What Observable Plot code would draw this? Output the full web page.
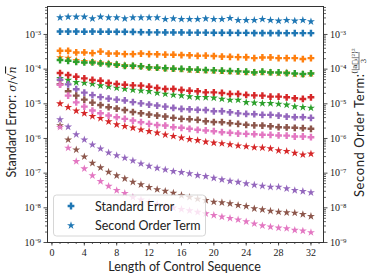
<!DOCTYPE html>
<html><head><meta charset="utf-8">
<script src="https://cdn.jsdelivr.net/npm/d3@7"></script>
<script src="https://cdn.jsdelivr.net/npm/@observablehq/plot@0.6"></script>
<style>body{margin:0;background:#fff;}</style>
</head><body><div id="chart"></div>
<script>
const lengths = [1,2,3,4,5,6,7,8,9,10,11,12,13,14,15,16,17,18,19,20,21,22,23,24,25,26,27,28,29,30,31,32];

const seBlue = [1.21e-3,1.21e-3,1.21e-3,1.2e-3,1.21e-3,1.2e-3,1.2e-3,1.19e-3,1.19e-3,1.18e-3,1.16e-3,1.15e-3,1.15e-3,1.14e-3,1.14e-3,1.14e-3,1.13e-3,1.13e-3,1.13e-3,1.12e-3,1.12e-3,1.12e-3,1.11e-3,1.11e-3,1.1e-3,1.1e-3,1.1e-3,1.1e-3,1.09e-3,1.09e-3,1.09e-3,1.09e-3];
const sotBlue = [3.06e-3,3.21e-3,3.21e-3,3.21e-3,2.86e-3,3.21e-3,3.06e-3,3.06e-3,2.86e-3,3.06e-3,3.06e-3,3.06e-3,3.06e-3,2.75e-3,2.86e-3,2.75e-3,2.75e-3,2.75e-3,2.86e-3,2.75e-3,2.75e-3,2.94e-3,2.58e-3,2.58e-3,2.58e-3,2.75e-3,2.58e-3,2.46e-3,2.58e-3,2.46e-3,2.58e-3,2.35e-3];
const seOrange = [3.38e-4,3.38e-4,3.02e-4,3.02e-4,2.9e-4,3.2e-4,2.82e-4,2.82e-4,2.71e-4,2.71e-4,2.82e-4,2.71e-4,2.68e-4,2.62e-4,2.6e-4,2.54e-4,2.5e-4,2.43e-4,2.45e-4,2.38e-4,2.3e-4,2.27e-4,2.22e-4,2.2e-4,2.08e-4,2.17e-4,2.17e-4,2.08e-4,2.08e-4,2.08e-4,1.95e-4,2.08e-4];
const sotOrange = [2.17e-4,2.08e-4,1.8e-4,1.69e-4,1.63e-4,1.53e-4,1.46e-4,1.38e-4,1.29e-4,1.25e-4,1.21e-4,1.13e-4,1.1e-4,1.06e-4,1.03e-4,9.93e-5,9.6e-5,9.4e-5,9.2e-5,9.0e-5,8.8e-5,8.6e-5,8.4e-5,8.26e-5,8.0e-5,8.26e-5,8.0e-5,7.62e-5,7.88e-5,7.13e-5,7.13e-5,7.38e-5];
const seGreen = [1.83e-4,1.74e-4,1.63e-4,1.56e-4,1.56e-4,1.46e-4,1.4e-4,1.34e-4,1.25e-4,1.25e-4,1.2e-4,1.12e-4,1.1e-4,1.06e-4,1.03e-4,1.01e-4,9.8e-5,9.6e-5,9.4e-5,9.2e-5,9.0e-5,8.8e-5,8.6e-5,8.4e-5,8.0e-5,8.4e-5,8.0e-5,8.0e-5,7.7e-5,7.5e-5,7.2e-5,7.5e-5];
const sotGreen = [5.41e-5,4.86e-5,4.15e-5,3.99e-5,3.73e-5,3.34e-5,3.12e-5,2.86e-5,2.68e-5,2.51e-5,2.39e-5,2.29e-5,2.06e-5,1.92e-5,1.8e-5,1.72e-5,1.61e-5,1.54e-5,1.54e-5,1.48e-5,1.38e-5,1.29e-5,1.29e-5,1.1e-5,1.07e-5,1.03e-5,1.03e-5,9.9e-6,9.3e-6,8.3e-6,7.94e-6,7.6e-6];
const seRed = [7.73e-5,6.76e-5,6.05e-5,5.41e-5,4.86e-5,4.64e-5,3.99e-5,3.73e-5,3.56e-5,3.4e-5,3.34e-5,3.12e-5,2.86e-5,2.68e-5,2.68e-5,2.51e-5,2.39e-5,2.29e-5,2.14e-5,2.14e-5,2.06e-5,1.92e-5,1.92e-5,1.8e-5,1.75e-5,1.72e-5,1.61e-5,1.61e-5,1.54e-5,1.44e-5,1.38e-5,1.54e-5];
const sotRed = [1.01e-5,7.94e-6,6.25e-6,5.33e-6,4.37e-6,3.83e-6,3.08e-6,2.52e-6,2.25e-6,2.03e-6,1.79e-6,1.61e-6,1.46e-6,1.28e-6,1.16e-6,1.05e-6,9.5e-7,8.8e-7,8.0e-7,7.5e-7,7.2e-7,6.7e-7,6.2e-7,5.9e-7,5.5e-7,5.4e-7,5.1e-7,4.5e-7,4.3e-7,3.8e-7,3.4e-7,3.6e-7];
const sePurple = [4.96e-5,3.63e-5,2.64e-5,2.1e-5,1.78e-5,1.56e-5,1.41e-5,1.32e-5,1.25e-5,1.12e-5,1.03e-5,9.5e-6,8.9e-6,8.3e-6,7.6e-6,7.1e-6,6.95e-6,6.7e-6,6.6e-6,6.1e-6,6.1e-6,5.7e-6,5.3e-6,5.1e-6,5.0e-6,4.8e-6,4.8e-6,4.58e-6,4.29e-6,4.1e-6,4.1e-6,3.93e-6];
const sotPurple = [3.52e-6,2.17e-6,1.3e-6,9.2e-7,6.6e-7,5.06e-7,3.88e-7,3.24e-7,2.75e-7,2.29e-7,1.87e-7,1.6e-7,1.4e-7,1.26e-7,1.13e-7,1.05e-7,9.7e-8,8.65e-8,8.1e-8,7.2e-8,6.5e-8,5.9e-8,5.5e-8,5.0e-8,4.55e-8,4.26e-8,3.98e-8,3.98e-8,3.59e-8,3.2e-8,3.0e-8,2.75e-8];
const seBrown = [3.7e-5,2.29e-5,1.72e-5,1.32e-5,1.08e-5,9.2e-6,8.0e-6,7.3e-6,6.6e-6,5.8e-6,5.33e-6,4.9e-6,4.58e-6,4.29e-6,3.93e-6,3.68e-6,3.6e-6,3.44e-6,3.14e-6,2.98e-6,2.95e-6,2.75e-6,2.64e-6,2.48e-6,2.39e-6,2.36e-6,2.25e-6,2.11e-6,2.08e-6,2.03e-6,1.98e-6,1.9e-6];
const sotBrown = [2.37e-6,9.2e-7,4.73e-7,2.98e-7,1.95e-7,1.44e-7,1.08e-7,8.5e-8,6.95e-8,5.55e-8,4.68e-8,3.91e-8,3.38e-8,3.04e-8,2.68e-8,2.3e-8,2.02e-8,1.8e-8,1.65e-8,1.48e-8,1.42e-8,1.33e-8,1.19e-8,1.11e-8,9.5e-9,8.9e-9,8.1e-9,7.6e-9,7.3e-9,7.1e-9,6.5e-9,5.7e-9];
const sePink = [3.56e-5,1.72e-5,1.1e-5,8.3e-6,6.38e-6,5.33e-6,4.58e-6,4.1e-6,3.68e-6,3.29e-6,2.94e-6,2.64e-6,2.44e-6,2.36e-6,2.11e-6,2.03e-6,1.9e-6,1.78e-6,1.7e-6,1.62e-6,1.52e-6,1.46e-6,1.39e-6,1.36e-6,1.33e-6,1.28e-6,1.27e-6,1.22e-6,1.21e-6,1.14e-6,1.14e-6,1.09e-6];
const sotPink = [2.11e-6,5.33e-7,2.18e-7,1.35e-7,8.5e-8,5.8e-8,4.22e-8,3.2e-8,2.63e-8,2.02e-8,1.71e-8,1.45e-8,1.27e-8,1.11e-8,1.0e-8,9.1e-9,8.3e-9,7.5e-9,6.8e-9,6.1e-9,5.5e-9,5.0e-9,4.55e-9,4.0e-9,3.49e-9,3.06e-9,2.83e-9,2.64e-9,2.54e-9,2.27e-9,2.17e-9,1.95e-9];

const seriesColors = ["#1f77b4","#ff7f0e","#2ca02c","#d62728","#9467bd","#8c564b","#e377c2"];
const seSeries = [seBlue, seOrange, seGreen, seRed, sePurple, seBrown, sePink];
const sotSeries = [sotBlue, sotOrange, sotGreen, sotRed, sotPurple, sotBrown, sotPink];

const xTicks = [0,4,8,12,16,20,24,28,32];
const xMinorTicks = [0,1,2,3,4,5,6,7,8,9,10,11,12,13,14,15,16,17,18,19,20,21,22,23,24,25,26,27,28,29,30,31,32,33];
const yTicks = [1e-9,1e-8,1e-7,1e-6,1e-5,1e-4,1e-3];
const yTickLabels = ["10⁻⁹","10⁻⁸","10⁻⁷","10⁻⁶","10⁻⁵","10⁻⁴","10⁻³"];
const yMinorTicks = [];
for (let e = -9; e <= -3; e++) for (let m = 2; m <= 9; m++) { const v = m * Math.pow(10, e); if (v < 6.4e-3) yMinorTicks.push(v); }

const legendLabels = ["Standard Error", "Second Order Term"];

// filled plus symbol (like matplotlib "P")
const plusFilled = {
  draw(ctx, size) {
    const h = Math.sqrt(size / Math.PI) * 1.3;
    const t = h * 0.36;
    ctx.moveTo(-t, -h); ctx.lineTo(t, -h); ctx.lineTo(t, -t); ctx.lineTo(h, -t);
    ctx.lineTo(h, t); ctx.lineTo(t, t); ctx.lineTo(t, h); ctx.lineTo(-t, h);
    ctx.lineTo(-t, t); ctx.lineTo(-h, t); ctx.lineTo(-h, -t); ctx.lineTo(-t, -t);
    ctx.closePath();
  }
};
const starSym = d3.symbolStar;
const rPlus = 2.6, rStar = 2.5;

const marks = [];
seriesColors.forEach((c, i) => {
  const seRows = lengths.map((L, j) => ({L, v: seSeries[i][j]}));
  const sotRows = lengths.map((L, j) => ({L, v: sotSeries[i][j]}));
  marks.push(Plot.dot(seRows, {x: "L", y: "v", symbol: plusFilled, r: rPlus, fill: c, stroke: "none"}));
  marks.push(Plot.dot(sotRows, {x: "L", y: "v", symbol: starSym, r: rStar, fill: c, stroke: "none"}));
});

const fmtY = d => yTickLabels[yTicks.findIndex(t => Math.abs(Math.log10(t) - Math.log10(d)) < 1e-6)];

const plot = Plot.plot({
  width: 374, height: 279,
  marginLeft: 47, marginRight: 51, marginTop: 6, marginBottom: 37,
  x: {domain: [-0.55, 33.55]},
  y: {type: "log", domain: [1e-9, 6.4e-3]},
  style: {background: "#fff", color: "#222", fontFamily: "'Liberation Serif', serif", fontSize: "10px"},
  marks: [
    Plot.axisY(yMinorTicks, {anchor: "left", tickSize: 2, tickFormat: () => "", label: null, strokeWidth: 0.7}),
    Plot.axisY(yMinorTicks, {anchor: "right", tickSize: 2, tickFormat: () => "", label: null, strokeWidth: 0.7}),
    Plot.axisY(yTicks, {anchor: "left", tickSize: 3.5, tickPadding: 3, tickFormat: fmtY, label: null, strokeWidth: 0.8}),
    Plot.axisY(yTicks, {anchor: "right", tickSize: 3.5, tickPadding: 3, tickFormat: fmtY, label: null, strokeWidth: 0.8}),
    Plot.axisX(xMinorTicks, {anchor: "bottom", tickSize: 2, tickFormat: () => "", label: null, strokeWidth: 0.7}),
    Plot.axisX(xTicks, {anchor: "bottom", tickSize: 3.5, tickPadding: 3, label: null, strokeWidth: 0.8}),
    ...marks,
    Plot.frame({stroke: "#333", strokeWidth: 1})
  ]
});

const svg = d3.select(plot);
const sans = "Lato, 'Liberation Sans', sans-serif";

// x label
svg.append("text").attr("x", 184.5).attr("y", 271).attr("text-anchor", "middle")
  .attr("font-family", sans).attr("font-size", 12.5).attr("fill", "#222").text("Length of Control Sequence");

// left y label
const ly = svg.append("g").attr("transform", "translate(16,122) rotate(-90)");
const lt = ly.append("text").attr("text-anchor", "middle").attr("font-family", sans).attr("font-size", 12.5).attr("fill", "#222");
lt.append("tspan").text("Standard Error: ");
lt.append("tspan").attr("font-family", "DejaVu Serif").attr("font-style", "italic").attr("font-size", 11).text("σ");
lt.append("tspan").attr("font-family", "DejaVu Serif").attr("font-size", 11).text("/√");
lt.append("tspan").attr("font-family", "DejaVu Serif").attr("font-style", "italic").attr("font-size", 11).attr("text-decoration", "overline").text("n");

// right y label
const ry = svg.append("g").attr("transform", "translate(364,197) rotate(-90)");
const rt = ry.append("text").attr("x", 0).attr("y", 0).attr("text-anchor", "start").attr("font-family", sans).attr("font-size", 13)
  .attr("textLength", 123).attr("lengthAdjust", "spacing").attr("fill", "#222").text("Second Order Term:");
const fx = 123 + 13;
ry.append("text").attr("x", fx).attr("y", -7).attr("text-anchor", "middle").attr("font-family", "DejaVu Serif").attr("font-size", 7).attr("fill", "#222").text("⟨|a⃗ᵢ|²⟩²");
ry.append("line").attr("x1", fx - 9).attr("x2", fx + 9).attr("y1", -5).attr("y2", -5).attr("stroke", "#222").attr("stroke-width", 0.6);
ry.append("text").attr("x", fx).attr("y", 2).attr("text-anchor", "middle").attr("font-family", "DejaVu Serif").attr("font-size", 7).attr("fill", "#222").text("3");

// legend
const lg = svg.append("g");
lg.append("rect").attr("x", 53.5).attr("y", 195).attr("width", 152).attr("height", 41).attr("rx", 3)
  .attr("fill", "#fff").attr("fill-opacity", 0.8).attr("stroke", "#ccc").attr("stroke-width", 0.8);
const legSyms = [[plusFilled, rPlus], [starSym, rStar]];
legendLabels.forEach((lab, i) => {
  const yy = 206 + i * 19.5;
  lg.append("path").attr("transform", `translate(71,${yy})`)
    .attr("d", d3.symbol(legSyms[i][0], legSyms[i][1] * legSyms[i][1] * Math.PI)())
    .attr("fill", seriesColors[0]);
  lg.append("text").attr("x", 95).attr("y", yy + 4.5).attr("text-anchor", "start").attr("font-family", sans).attr("font-size", 12.5).attr("fill", "#222").text(lab);
});

document.getElementById("chart").appendChild(plot);
</script>
</body></html>
